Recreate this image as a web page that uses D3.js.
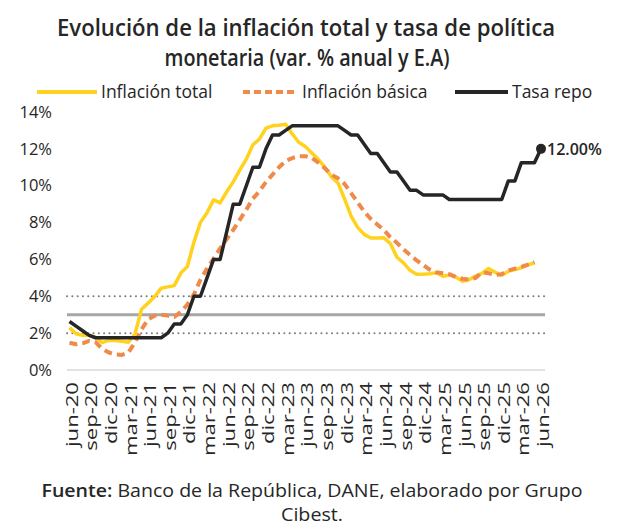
<!DOCTYPE html>
<html>
<head>
<meta charset="utf-8">
<script src="https://cdn.jsdelivr.net/npm/d3@7"></script>
<style>
  body { margin: 0; background: #fff; }
  text { font-family: "Open Sans", sans-serif; fill: #262626; }
</style>
</head>
<body>
<div id="chart-area"></div>
<script>
// months jun-20 .. jun-26
const monthNames = ["ene","feb","mar","abr","may","jun","jul","ago","sep","oct","nov","dic"];
const months = [];
for (let k = 5; k <= 5 + 72; k++) {
    months.push(monthNames[k % 12] + "-" + (20 + Math.floor(k / 12)));
}
const tickLabels = months.filter((m, i) => i % 3 === 0);

const yTicks = [0, 2, 4, 6, 8, 10, 12, 14];

const inflacionTotal = [
    2.30, 1.97, 1.88, 1.90, 1.75, 1.49, 1.61, 1.60, 1.56, 1.51, 1.95, 3.30,
    3.63, 3.97, 4.44, 4.51, 4.58, 5.26, 5.62, 6.94, 8.01, 8.53, 9.23, 9.07,
    9.67, 10.21, 10.84, 11.44, 12.22, 12.53, 13.12, 13.25, 13.28, 13.34, 12.82, 12.36,
    12.13, 11.78, 11.43, 10.99, 10.48, 10.15, 9.28, 8.35, 7.74, 7.36, 7.16, 7.16,
    7.18, 6.86, 6.12, 5.81, 5.41, 5.20, 5.20, 5.22, 5.28, 5.09, 5.16, 5.05,
    4.82, 4.90, 5.10, 5.25, 5.51, 5.30, 5.15, 5.35, 5.45, 5.55, 5.70, 5.82
];

const inflacionBasica = [
    1.48, 1.40, 1.45, 1.58, 1.50, 1.15, 0.95, 0.85, 0.82, 0.95, 1.50, 2.20,
    2.75, 2.95, 3.00, 2.95, 2.88, 3.15, 3.55, 4.10, 4.90, 5.50, 6.05, 6.60,
    7.10, 7.60, 8.15, 8.70, 9.30, 9.70, 10.20, 10.60, 11.00, 11.35, 11.50, 11.60,
    11.60, 11.50, 11.25, 10.95, 10.60, 10.40, 10.10, 9.60, 9.10, 8.60, 8.20, 7.90,
    7.60, 7.20, 6.90, 6.55, 6.25, 5.95, 5.70, 5.45, 5.30, 5.25, 5.20, 5.05,
    4.95, 4.90, 5.00, 5.30, 5.25, 5.15, 5.20, 5.40, 5.50, 5.60, 5.72, 5.85
];

const tasaRepo = [
    2.63, 2.38, 2.13, 1.88, 1.75, 1.75, 1.75, 1.75, 1.75, 1.75, 1.75, 1.75,
    1.75, 1.75, 1.75, 2.00, 2.50, 2.50, 3.00, 4.00, 4.00, 5.00, 6.00, 6.00,
    7.50, 9.00, 9.00, 10.00, 11.00, 11.00, 12.00, 12.75, 12.75, 13.00, 13.25, 13.25,
    13.25, 13.25, 13.25, 13.25, 13.25, 13.25, 13.00, 12.75, 12.75, 12.25, 11.75, 11.75,
    11.25, 10.75, 10.75, 10.25, 9.75, 9.75, 9.50, 9.50, 9.50, 9.50, 9.25, 9.25,
    9.25, 9.25, 9.25, 9.25, 9.25, 9.25, 9.25, 10.25, 10.25, 11.25, 11.25, 11.25,
    12.00
];

const metaInflacion = 3, rangoBajo = 2, rangoAlto = 4;

const W = 626, H = 527;
const svg = d3.select("#chart-area").append("svg")
    .attr("width", W).attr("height", H);

const x = d3.scalePoint().domain(months).range([69.5, 541]);
const y = d3.scaleLinear().domain([0, 14]).range([370, 112]);
const xl = 67, xr = 545;

// Title
const title = svg.append("g").attr("font-weight", 600);
title.append("text")
    .attr("x", 306).attr("y", 36)
    .attr("text-anchor", "middle")
    .attr("font-size", "24px")
    .attr("textLength", 498).attr("lengthAdjust", "spacingAndGlyphs")
    .text("Evolución de la inflación total y tasa de política");
title.append("text")
    .attr("x", 307).attr("y", 66)
    .attr("text-anchor", "middle")
    .attr("font-size", "24px")
    .attr("textLength", 285).attr("lengthAdjust", "spacingAndGlyphs")
    .text("monetaria (var. % anual y E.A)");

// Legend
const legend = [
    { name: "Inflación total", color: "#FFD21F", dash: null, x1: 37, x2: 97 },
    { name: "Inflación básica", color: "#F08A4B", dash: "7,4", x1: 243, x2: 298 },
    { name: "Tasa repo", color: "#262626", dash: null, x1: 455, x2: 508 }
];
const lg = svg.append("g");
legend.forEach(d => {
    lg.append("line")
        .attr("x1", d.x1).attr("x2", d.x2).attr("y1", 92).attr("y2", 92)
        .attr("stroke", d.color).attr("stroke-width", 4)
        .attr("stroke-dasharray", d.dash);
    lg.append("text")
        .attr("x", d.x2 + 4).attr("y", 98)
        .attr("font-size", "17.5px")
        .text(d.name);
});

// Y axis labels
const yAxisCall = d3.axisLeft(y).tickValues(yTicks).tickSize(0).tickPadding(0)
    .tickFormat(d => d + "%");
svg.append("g")
    .attr("class", "y axis")
    .attr("transform", "translate(52,0)")
    .call(yAxisCall)
    .call(g => g.select(".domain").remove())
    .selectAll("text")
        .attr("font-size", "16.5px")
        .attr("font-family", "Open Sans, sans-serif")
        .attr("fill", "#262626");

// baseline
svg.append("line")
    .attr("x1", xl).attr("x2", xr).attr("y1", y(0)).attr("y2", y(0))
    .attr("stroke", "#D9D9D9").attr("stroke-width", 1.5);

// target band lines
[rangoAlto, rangoBajo].forEach(v => {
    svg.append("line")
        .attr("x1", xl).attr("x2", xr).attr("y1", y(v)).attr("y2", y(v))
        .attr("stroke", "#7F7F7F").attr("stroke-width", 2)
        .attr("stroke-linecap", "round")
        .attr("stroke-dasharray", "0.1,5.2");
});
svg.append("line")
    .attr("x1", xl).attr("x2", xr).attr("y1", y(metaInflacion)).attr("y2", y(metaInflacion))
    .attr("stroke", "#A6A6A6").attr("stroke-width", 3);

// X axis labels
const xAxisCall = d3.axisBottom(x).tickValues(tickLabels).tickSize(0).tickPadding(0);
svg.append("g")
    .attr("class", "x axis")
    .attr("transform", "translate(2," + 382 + ")")
    .call(xAxisCall)
    .call(g => g.select(".domain").remove())
    .selectAll("text")
        .attr("font-size", "16px")
        .attr("font-family", "Open Sans, sans-serif")
        .attr("fill", "#262626")
        .attr("text-anchor", "end")
        .attr("x", 0).attr("y", 0).attr("dy", "0.35em")
        .attr("transform", "scale(1,1.38) rotate(-90)");

// Lines
const line = d3.line()
    .x((d, i) => x(months[i]))
    .y(d => y(d));

svg.append("path")
    .datum(inflacionTotal)
    .attr("d", line)
    .attr("fill", "none")
    .attr("stroke", "#FFD21F").attr("stroke-width", 3.5)
    .attr("stroke-linejoin", "round");

svg.append("path")
    .datum(inflacionBasica)
    .attr("d", line)
    .attr("fill", "none")
    .attr("stroke", "#F08A4B").attr("stroke-width", 4)
    .attr("stroke-dasharray", "8,5")
    .attr("stroke-linejoin", "round");

svg.append("path")
    .datum(tasaRepo)
    .attr("d", line)
    .attr("fill", "none")
    .attr("stroke", "#262626").attr("stroke-width", 3.5)
    .attr("stroke-linejoin", "round");

// end point label
const lastI = tasaRepo.length - 1;
svg.append("circle")
    .attr("cx", x(months[lastI])).attr("cy", y(tasaRepo[lastI]))
    .attr("r", 5).attr("fill", "#262626");
svg.append("text")
    .attr("x", x(months[lastI]) + 6).attr("y", y(tasaRepo[lastI]) + 6)
    .attr("font-size", "16px").attr("font-weight", 600)
    .text(tasaRepo[lastI].toFixed(2) + "%");

// Footer
const foot = svg.append("text")
    .attr("x", 312).attr("y", 497)
    .attr("text-anchor", "middle")
    .attr("font-size", "17.5px")
    .attr("textLength", 541).attr("lengthAdjust", "spacingAndGlyphs");
foot.append("tspan").attr("font-weight", 600).text("Fuente:");
foot.append("tspan").text(" Banco de la República, DANE, elaborado por Grupo");
svg.append("text")
    .attr("x", 312).attr("y", 521)
    .attr("text-anchor", "middle")
    .attr("font-size", "17.5px")
    .attr("textLength", 62).attr("lengthAdjust", "spacingAndGlyphs")
    .text("Cibest.");
</script>
</body>
</html>
